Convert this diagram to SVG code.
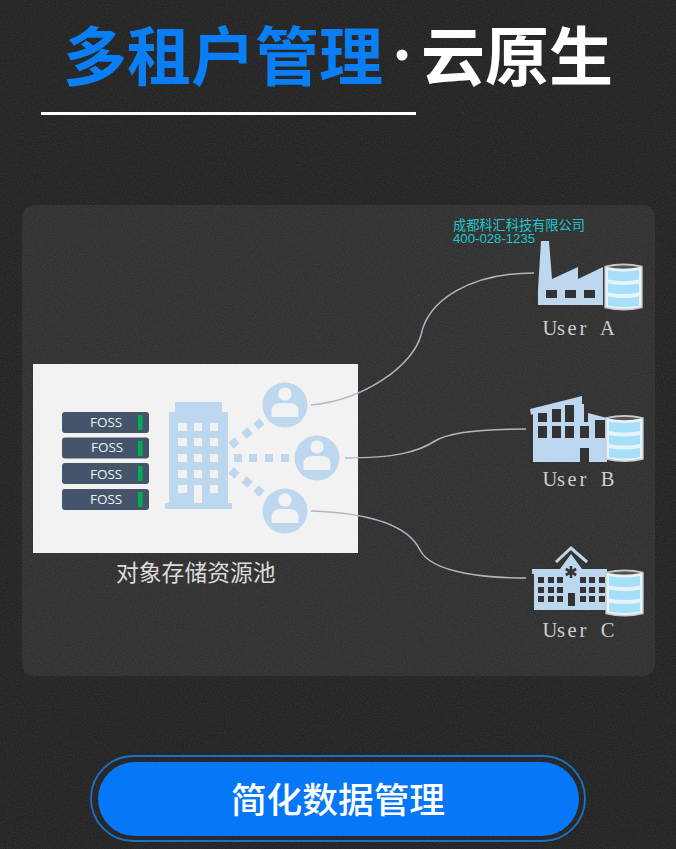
<svg xmlns="http://www.w3.org/2000/svg" width="676" height="849" viewBox="0 0 676 849">
<defs>
<style>
.bl{fill:#bdd7ee}.hole{fill:#333}.win{fill:#f2f2f2}
.srv{fill:#44546a}.led{fill:#00b050}
.foss{font:13.5px "Open Sans","Noto Sans",sans-serif;fill:#f2f2f2}
.usr{font:20.5px "Liberation Serif",serif;fill:#cfcfcf;text-anchor:middle;white-space:pre}
.conn{fill:none;stroke:#b4b4c6;stroke-width:1.5}
.dot{fill:#bdd7ee}
.t{font-family:"Noto Sans CJK SC",sans-serif}
</style>
<filter id="noise" x="0" y="0" width="100%" height="100%"><feTurbulence type="fractalNoise" baseFrequency="0.9" numOctaves="2" seed="3"/><feColorMatrix values="0 0 0 0 0.5 0 0 0 0 0.5 0 0 0 0 0.5 0 0 0 0.5 -0.12"/></filter>
<g id="cyl"><path d="M0 3Q18.500 -1.500 37 3V44Q18.500 48.500 0 44Z" fill="#e6f3f9" stroke="#c8c8c8" stroke-width="1.300"/><path d="M2 3.500Q18.500 0 35 3.500Q18.500 7 2 3.500Z" fill="#555"/><path d="M3 6.500Q18.500 9.500 34 6.500V16Q18.500 19 3 16Z M3 20Q18.500 23 34 20V29Q18.500 32 3 29Z M3 33Q18.500 36 34 33V42Q18.500 45 3 42Z" fill="#a6dffa"/></g>
<g id="person"><circle r="22.5" class="bl"/><circle cy="-11" r="6.6" fill="#f2f2f2"/><path d="M-13.5 12V6Q-13.5 -2 -4 -2H4Q13.500 -2 13.500 6V12Z" fill="#f2f2f2"/></g>
</defs>
<rect width="676" height="849" fill="#222"/>
<rect id="panel" x="22" y="205" width="633" height="471" rx="12" fill="#2f2f2f"/>
<rect width="676" height="849" filter="url(#noise)" opacity=".35"/>
<g id="title" class="t" font-size="64" font-weight="700">
<text x="63" y="80" fill="#0a7ef5" textLength="320">多租户管理</text>
<circle cx="402" cy="55" r="5.500" fill="#fff"/>
<text x="421" y="80" fill="#fff">云原生</text>
<rect x="41" y="112" width="375" height="3" fill="#fff"/>
</g>
<g id="pool">
<rect x="33" y="364" width="325" height="189" fill="#f2f2f2"/>
<g id="servers">
<rect class="srv" x="62" y="412" width="87" height="21" rx="3"/><rect class="led" x="138" y="415" width="4.500" height="15"/><text class="foss" x="90" y="427">FOSS</text>
<rect class="srv" x="62" y="437.500" width="87" height="21" rx="3"/><rect class="led" x="138" y="441" width="4.500" height="15"/><text class="foss" x="91" y="451.500">FOSS</text>
<rect class="srv" x="62" y="463" width="87" height="21" rx="3"/><rect class="led" x="138" y="466" width="4.500" height="15"/><text class="foss" x="90" y="478.500">FOSS</text>
<rect class="srv" x="62" y="489" width="87" height="21" rx="3"/><rect class="led" x="138" y="492" width="4.500" height="15"/><text class="foss" x="90" y="504">FOSS</text>
</g>
<g id="building">
<path class="bl" d="M175 402H222V412H228V503H232V509H165V503H169V412H175Z"/>
<g class="win"><rect x="178" y="423" width="9" height="8"/><rect x="194" y="423" width="8" height="8"/><rect x="210" y="423" width="8" height="8"/><rect x="178" y="438" width="9" height="8"/><rect x="194" y="438" width="8" height="8"/><rect x="210" y="438" width="8" height="8"/><rect x="178" y="454" width="9" height="8"/><rect x="194" y="454" width="8" height="8"/><rect x="210" y="454" width="8" height="8"/><rect x="178" y="470" width="9" height="8"/><rect x="194" y="470" width="8" height="8"/><rect x="210" y="470" width="8" height="8"/><rect x="178" y="485" width="9" height="8"/><rect x="194" y="485" width="8" height="18"/><rect x="210" y="485" width="8" height="8"/></g>
</g>
<g id="links" class="dot">
<rect x="230" y="439" width="8" height="8" transform="rotate(-40 234 443)"/><rect x="243" y="429" width="8" height="8" transform="rotate(-40 247 433)"/><rect x="255" y="420" width="8" height="8" transform="rotate(-40 259 424)"/>
<rect x="234" y="454" width="8" height="8"/><rect x="249" y="454" width="8" height="8"/><rect x="265" y="454" width="8" height="8"/><rect x="281" y="454" width="8" height="8"/>
<rect x="230" y="469" width="8" height="8" transform="rotate(40 234 473)"/><rect x="243" y="478" width="8" height="8" transform="rotate(40 247 482)"/><rect x="255" y="487" width="8" height="8" transform="rotate(40 259 491)"/>
</g>
<use id="user1" href="#person" x="285" y="405"/>
<use id="user2" href="#person" x="317" y="458"/>
<use id="user3" href="#person" x="285" y="511"/>
</g>
<text id="pool-label" class="t" x="116" y="581" font-size="22.800" fill="#dcdcdc">对象存储资源池</text>
<g id="connectors">
<path class="conn" d="M311 405C365 400 413 365 421 335C428 300 470 273 534 273"/>
<path class="conn" d="M345 458C395 458 418 452 435 441C450 431 490 429 526 429"/>
<path class="conn" d="M311 511C370 513 408 525 420 550C432 574 490 578 526 578"/>
</g>
<g id="user-a">
<path class="bl" d="M541 241H549L552 279L578 267V279L603 267V305H538V290Z"/>
<g class="hole"><rect x="546" y="290" width="11" height="8"/><rect x="565" y="290" width="11" height="8"/><rect x="584" y="290" width="11" height="8"/></g>
<use href="#cyl" x="605" y="263.500"/>
<text class="usr" x="550 561 572 583 596 607.500" y="335">User A</text>
</g>
<g id="user-b">
<path class="bl" d="M530 409L582 396V404H584V422H588V413L607 418V462H533V414L531 415Z"/>
<g class="hole"><rect x="538" y="413" width="9" height="9"/><rect x="552" y="409" width="9" height="13"/><rect x="565" y="405" width="9" height="17"/><rect x="538" y="426" width="9" height="12"/><rect x="552" y="426" width="9" height="12"/><rect x="565" y="426" width="9" height="12"/><rect x="580" y="426" width="9" height="12"/><rect x="595" y="420" width="10" height="18"/><rect x="580" y="448" width="9" height="14"/></g>
<use href="#cyl" x="606" y="415"/>
<text class="usr" x="550 561 572 583 596 607.500" y="486">User B</text>
</g>
<g id="user-c">
<path class="bl" d="M532 569H560L571 554L582 569H607V610H534V574H532Z"/>
<path d="M556 562L571 548L587 562" fill="none" stroke="#bdd7ee" stroke-width="3"/>
<g class="hole"><rect x="538" y="577" width="6" height="6"/><rect x="548" y="577" width="6" height="6"/><rect x="557" y="577" width="6" height="6"/><rect x="580" y="577" width="6" height="6"/><rect x="589" y="577" width="6" height="6"/><rect x="599" y="577" width="6" height="6"/><rect x="538" y="587" width="6" height="6"/><rect x="548" y="587" width="6" height="6"/><rect x="557" y="587" width="6" height="6"/><rect x="580" y="587" width="6" height="6"/><rect x="589" y="587" width="6" height="6"/><rect x="599" y="587" width="6" height="6"/><rect x="538" y="596" width="6" height="6"/><rect x="548" y="596" width="6" height="6"/><rect x="557" y="596" width="6" height="6"/><rect x="580" y="596" width="6" height="6"/><rect x="589" y="596" width="6" height="6"/><rect x="599" y="596" width="6" height="6"/><rect x="568" y="593" width="7" height="13"/></g>
<path d="M571 566V578M565.800 569L576.200 575M565.800 575L576.200 569" stroke="#333" stroke-width="2.600" fill="none"/>
<use href="#cyl" x="606" y="569.500"/>
<text class="usr" x="550 561 572 583 596 607.500" y="637">User C</text>
</g>
<g id="watermark" fill="#20c8cc" font-size="13.200">
<text class="t" x="453" y="230">成都科汇科技有限公司</text>
<text x="453" y="243" font-family="Liberation Sans,sans-serif">400-028-1235</text>
</g>
<g id="button">
<rect x="91" y="756" width="494" height="85" rx="42.500" fill="none" stroke="#1a72c8" stroke-width="1.800"/>
<rect x="98" y="762" width="481" height="74" rx="37" fill="#0677f6"/>
<text class="t" x="338" y="813" text-anchor="middle" font-size="35.700" font-weight="500" fill="#fff">简化数据管理</text>
</g>
</svg>
